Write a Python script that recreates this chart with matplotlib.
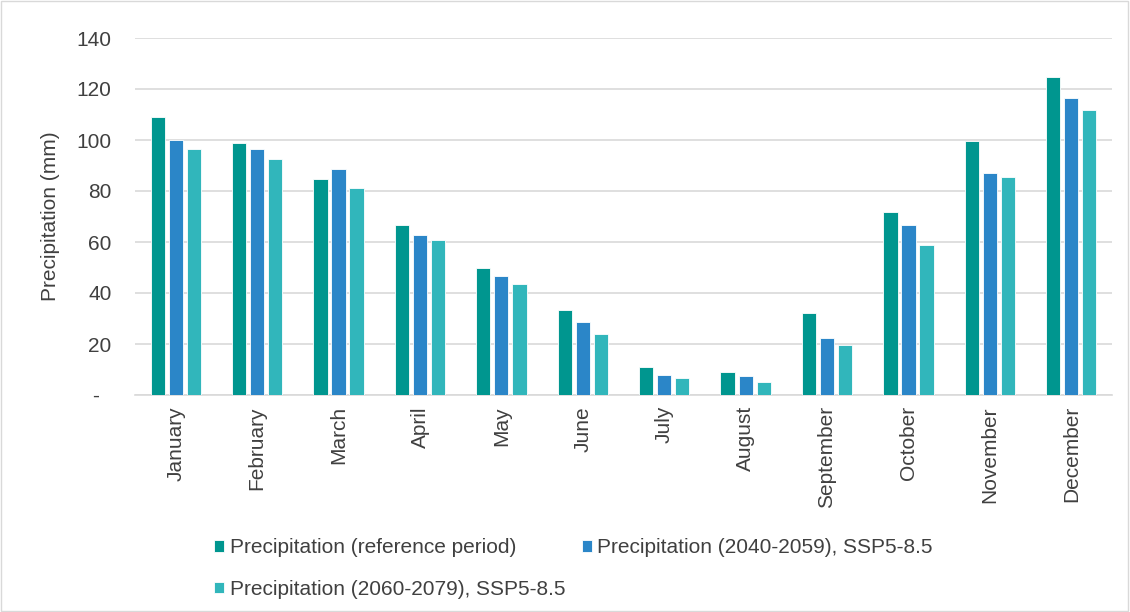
import matplotlib.pyplot as plt
import numpy as np
from matplotlib.patches import Rectangle

months = ["January", "February", "March", "April", "May", "June", "July",
          "August", "September", "October", "November", "December"]
reference = [109.1, 98.9, 84.8, 66.5, 49.8, 33.5, 10.9, 9.2, 32.2, 71.6, 99.7, 124.8]
ssp_2040 = [100.0, 96.3, 88.5, 62.8, 46.6, 28.7, 7.8, 7.3, 22.4, 66.7, 87.2, 116.6]
ssp_2060 = [96.3, 92.6, 81.0, 60.6, 43.4, 23.8, 6.8, 5.0, 19.5, 58.7, 85.4, 111.9]
series_names = ["Precipitation (reference period)",
                "Precipitation (2040-2059), SSP5-8.5",
                "Precipitation (2060-2079), SSP5-8.5"]
colors = ["#00968F", "#2B86C8", "#31B6BB"]
FS = 15
TXT = "#404040"

plt.rcParams["font.family"] = ["Liberation Sans", "DejaVu Sans"]
fig = plt.figure(figsize=(11.3, 6.12), dpi=100)
ax = fig.add_axes([135 / 1130, 1 - 395 / 612, (1112 - 135) / 1130, (395 - 38) / 612])

x = np.arange(len(months))
width = 0.175
step = 0.222
handles = []
for i, (vals, name, c) in enumerate(zip([reference, ssp_2040, ssp_2060], series_names, colors)):
    b = ax.bar(x + (i - 1) * step, vals, width, color=c, edgecolor="white",
               linewidth=0.6, label=name, zorder=3)
    handles.append(b)

ax.set_xlim(-0.5, len(months) - 0.5)
ax.set_ylim(0, 140)
ax.set_yticks(range(0, 141, 20))
ax.set_yticklabels(["-  "] + [str(v) for v in range(20, 141, 20)], fontsize=FS, color=TXT)
ax.set_xticks(x)
ax.set_xticklabels(months, rotation=90, fontsize=FS, color=TXT)
ax.tick_params(axis="x", length=0, pad=8)
ax.tick_params(axis="y", length=0, pad=17)
ax.grid(axis="y", color="#d9d9d9", linewidth=1.2, zorder=0)
for s in ["top", "right", "left"]:
    ax.spines[s].set_visible(False)
ax.spines["bottom"].set_color("#d9d9d9")
ax.spines["bottom"].set_linewidth(1.2)
ax.set_ylabel("Precipitation (mm)", fontsize=FS, color=TXT)
ax.yaxis.set_label_coords(-75 / 977, 0.5)

# row-wise order: ref, 2040 on first row, 2060 on second row
fig.legend(handles=[handles[0], handles[2], handles[1]], loc="upper left",
           bbox_to_anchor=(214 / 1130, 1 - 538 / 612), ncol=2, frameon=False,
           fontsize=FS, handlelength=0.5, handleheight=0.5, handletextpad=0.25,
           columnspacing=0.8, labelspacing=1.1, borderpad=0, borderaxespad=0,
           labelcolor=TXT)

fig.patches.append(Rectangle((0.001, 0.002), 0.997, 0.996, transform=fig.transFigure,
                             fill=False, edgecolor="#d9d9d9", linewidth=1))

fig.savefig("out.png", dpi=100)
